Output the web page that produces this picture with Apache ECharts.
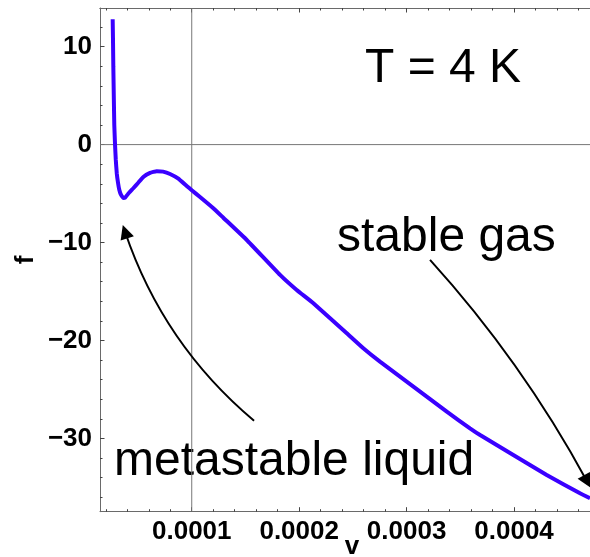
<!DOCTYPE html>
<html><head><meta charset="utf-8">
<script src="https://cdn.jsdelivr.net/npm/echarts@6/dist/echarts.min.js"></script>
<style>html,body{margin:0;padding:0;background:#fff}#c{width:590px;height:557px}</style>
</head><body><div id="c"></div>
<script>
// curve data (v, f)
const vValues = [0.0000264,0.0000267,0.0000270,0.0000275,0.0000279,0.0000286,0.0000293,0.0000302,0.0000314,0.0000326,0.0000342,0.0000364,0.0000379,0.0000407,0.0000456,0.0000500,0.0000549,0.0000612,0.0000674,0.0000733,0.0000798,0.0000872,0.0000953,0.0001000,0.0001077,0.0001201,0.0001294,0.0001512,0.0001822,0.0001977,0.0002132,0.0002443,0.0002597,0.0002752,0.0003063,0.0003374,0.0003590,0.0003684,0.0003993,0.0004304,0.0004614,0.0004707];
const fValues = [12.81,10.69,7.96,4.56,2.0,0,-1.57,-2.92,-3.92,-4.63,-5.14,-5.45,-5.42,-5.04,-4.46,-3.92,-3.3,-2.89,-2.71,-2.76,-3.0,-3.46,-4.22,-4.66,-5.35,-6.50,-7.47,-9.74,-13.31,-14.85,-16.20,-19.27,-20.80,-22.17,-24.72,-27.28,-28.97,-29.66,-31.70,-33.74,-35.61,-36.12];

const xRange = [0.0000146, 0.0004707];
const yRange = [-37.49, 13.95];
const xMajorTicks = [0.0001, 0.0002, 0.0003, 0.0004];
const xMinorTicks = [0.00002,0.00004,0.00006,0.00008,0.00012,0.00014,0.00016,0.00018,0.00022,0.00024,0.00026,0.00028,0.00032,0.00034,0.00036,0.00038,0.00042,0.00044,0.00046];
const yMajorTicks = [-30, -20, -10, 0, 10];
const yMinorTicks = [-36,-34,-32,-28,-26,-24,-22,-18,-16,-14,-12,-8,-6,-4,-2,2,4,6,8,12];
const axesOrigin = [0.0001, 0];

// arrows: start point, end point (data coords), curveness
const arrowStarts = [[0.0003218, -11.78], [0.000158, -28.2]];
const arrowEnds = [[0.0004680, -34.4], [0.0000379, -8.9]];
const arrowCurv = [0.06, 0.14];

const chart = echarts.init(document.getElementById('c'));
const frameColor = '#6a6a6a';
const tickColor = '#444';
const labelFont = {fontFamily: 'Liberation Sans', fontWeight: 'bold', fontSize: 26, color: '#000'};

function xAxisDef(pos, ticks, len, labels) {
  return {
    type: 'value', position: pos, min: xRange[0], max: xRange[1],
    axisLine: {show: labels !== null || pos === 'top', onZero: false, lineStyle: {color: frameColor, width: 1}},
    axisTick: {show: true, inside: true, length: len, customValues: ticks, lineStyle: {color: tickColor, width: 1}},
    axisLabel: labels ? Object.assign({show: true, customValues: labels, margin: 7, formatter: v => v.toFixed(4)}, labelFont) : {show: false},
    splitLine: {show: false}
  };
}
function yAxisDef(ticks, len, labels) {
  return {
    type: 'value', position: 'left', min: yRange[0], max: yRange[1],
    axisLine: {show: !!labels, onZero: false, lineStyle: {color: frameColor, width: 1}},
    axisTick: {show: true, inside: true, length: len, customValues: ticks, lineStyle: {color: tickColor, width: 1}},
    axisLabel: labels ? Object.assign({show: true, customValues: labels, margin: 8, formatter: v => v < 0 ? '\u2212' + Math.abs(v) : String(v)}, labelFont) : {show: false},
    splitLine: {show: false}
  };
}

const xa0 = xAxisDef('bottom', xMajorTicks, 4.5, xMajorTicks);
xa0.name = 'v';
xa0.nameLocation = 'middle';
xa0.nameGap = 22;
xa0.nameMoveOverlap = false;
xa0.nameTextStyle = {fontFamily: 'Liberation Sans', fontWeight: 'bold', fontSize: 26, color: '#000', padding: [0, 0, 0, 14]};
const ya0 = yAxisDef(yMajorTicks, 4.5, yMajorTicks);
ya0.name = 'f';
ya0.nameLocation = 'middle';
ya0.nameGap = 61;
ya0.nameMoveOverlap = false;
ya0.nameTextStyle = {fontFamily: 'Liberation Sans', fontWeight: 'bold', fontSize: 26, color: '#000'};

const axisLineStyle = {color: '#777', width: 1};
const option = {
  animation: false,
  backgroundColor: '#fff',
  grid: {left: 100, right: 0, top: 8, bottom: 45.3, containLabel: false, outerBoundsMode: 'none'},
  xAxis: [
    xa0,
    xAxisDef('bottom', xMinorTicks, 2.5, null),
    xAxisDef('top', xMajorTicks, 4.5, null),
    xAxisDef('top', xMinorTicks, 2.5, null)
  ],
  yAxis: [ya0, yAxisDef(yMinorTicks, 2.5, null)],
  series: [
    {
      type: 'line', z: 1, silent: true, showSymbol: false,
      data: [[axesOrigin[0], yRange[0]], [axesOrigin[0], yRange[1]]],
      lineStyle: axisLineStyle
    },
    {
      type: 'line', z: 1, silent: true, showSymbol: false,
      data: [[xRange[0], axesOrigin[1]], [xRange[1], axesOrigin[1]]],
      lineStyle: axisLineStyle
    },
    {
      type: 'line', z: 3,
      data: vValues.map((v, i) => [v, fValues[i]]),
      showSymbol: false, smooth: 0.1,
      lineStyle: {color: '#3a00ff', width: 4},
      clip: true
    },
    {
      type: 'lines', coordinateSystem: 'cartesian2d', z: 4,
      symbol: ['none', 'triangle'], symbolSize: 14,
      lineStyle: {color: '#000', width: 2, opacity: 1},
      itemStyle: {color: '#000'},
      data: arrowStarts.map((s, i) => ({coords: [s, arrowEnds[i]], lineStyle: {curveness: arrowCurv[i]}}))
    }
  ],
  graphic: [
    {type: 'text', left: 365, top: 45, style: {text: 'T = 4 K', font: '48px "Liberation Sans"', fill: '#000'}},
    {type: 'text', left: 337, top: 214, style: {text: 'stable gas', font: '48px "Liberation Sans"', fill: '#000'}},
    {type: 'text', left: 114, top: 438, style: {text: 'metastable liquid', font: '48px "Liberation Sans"', fill: '#000'}}
  ]
};
chart.setOption(option);
</script>
</body></html>
